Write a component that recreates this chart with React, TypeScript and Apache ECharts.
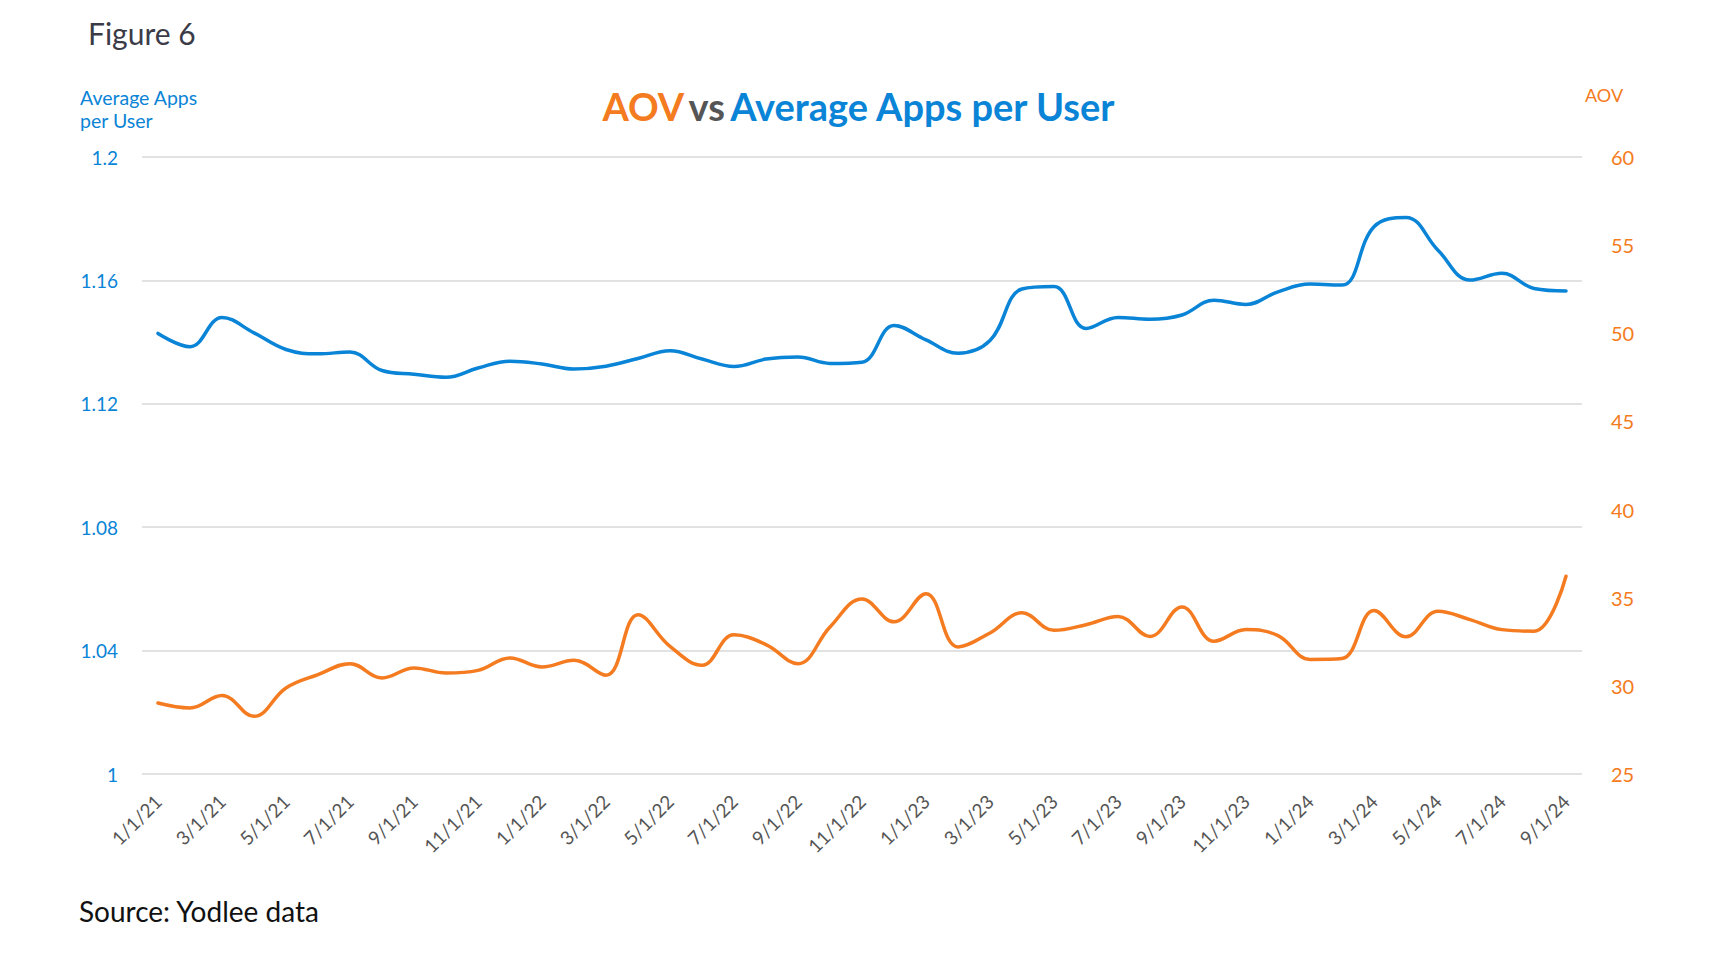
import React, { useEffect, useRef } from "react";
import * as echarts from "echarts";

const months: string[] = [
  "1/1/21", "2/1/21", "3/1/21", "4/1/21", "5/1/21", "6/1/21", "7/1/21", "8/1/21", "9/1/21", "10/1/21", "11/1/21", "12/1/21",
  "1/1/22", "2/1/22", "3/1/22", "4/1/22", "5/1/22", "6/1/22", "7/1/22", "8/1/22", "9/1/22", "10/1/22", "11/1/22", "12/1/22",
  "1/1/23", "2/1/23", "3/1/23", "4/1/23", "5/1/23", "6/1/23", "7/1/23", "8/1/23", "9/1/23", "10/1/23", "11/1/23", "12/1/23",
  "1/1/24", "2/1/24", "3/1/24", "4/1/24", "5/1/24", "6/1/24", "7/1/24", "8/1/24", "9/1/24",
];

const appsPerUser: number[] = [
  1.1428, 1.1385, 1.148, 1.143, 1.1376, 1.1362, 1.1368, 1.1308, 1.1296, 1.1286, 1.1316, 1.1338,
  1.1329, 1.1313, 1.1322, 1.1347, 1.1372, 1.1345, 1.1321, 1.1345, 1.1352, 1.1331, 1.1335, 1.1454,
  1.1407, 1.1364, 1.1405, 1.1572, 1.158, 1.1444, 1.148, 1.1474, 1.1488, 1.1536, 1.1522, 1.1563,
  1.1588, 1.1585, 1.1774, 1.1804, 1.1698, 1.1601, 1.1623, 1.1574, 1.1566,
];

const aov: number[] = [
  29.03, 28.75, 29.46, 28.27, 29.88, 30.64, 31.26, 30.45, 31.02, 30.73, 30.88, 31.58,
  31.07, 31.45, 30.6, 34.04, 32.24, 31.17, 32.9, 32.34, 31.26, 33.34, 34.93, 33.63,
  35.23, 32.21, 33.0, 34.14, 33.15, 33.47, 33.94, 32.8, 34.48, 32.53, 33.19, 32.85,
  31.5, 31.55, 34.27, 32.78, 34.23, 33.76, 33.19, 33.1, 36.22,
];

const leftTicks = { min: 1, max: 1.2, interval: 0.04 };
const rightTicks = { min: 25, max: 60, interval: 5 };

const BLUE = "#0a84d6";
const ORANGE = "#f47b20";
const FONT = "Lato, 'Open Sans', sans-serif";

export default function App() {
  const ref = useRef<HTMLDivElement>(null);

  useEffect(() => {
    document.body.style.margin = "0";
    if (!ref.current) return;
    const chart = echarts.init(ref.current, null, { renderer: "svg" });
    chart.setOption({
      animation: false,
      backgroundColor: "#ffffff",
      textStyle: { fontFamily: FONT },
      title: {
        text: "{a|AOV} {b|vs} {c|Average Apps per User}",
        left: "center",
        top: 82,
        textStyle: {
          rich: {
            a: { color: ORANGE, fontSize: 38, fontWeight: "bold", fontFamily: FONT },
            b: { color: "#555555", fontSize: 38, fontWeight: "bold", fontFamily: FONT },
            c: { color: BLUE, fontSize: 38, fontWeight: "bold", fontFamily: FONT },
          },
        },
      },
      graphic: [
        {
          type: "text",
          left: 88,
          top: 18,
          style: { text: "Figure 6", fontSize: 30, fill: "#3b3b48", fontFamily: FONT },
        },
        {
          type: "text",
          left: 80,
          top: 86,
          style: { text: "Average Apps\nper User", fontSize: 19.5, lineHeight: 23, fill: BLUE, fontFamily: FONT },
        },
        {
          type: "text",
          left: 1585,
          top: 86,
          style: { text: "AOV", fontSize: 18, fill: ORANGE, fontFamily: FONT },
        },
        {
          type: "text",
          left: 79,
          top: 897,
          style: { text: "Source: Yodlee data", fontSize: 28, fill: "#111111", fontFamily: FONT },
        },
      ],
      grid: { left: 142, right: 136, top: 157, bottom: 190, containLabel: false },
      xAxis: {
        type: "category",
        data: months,
        boundaryGap: true,
        axisLine: { show: false },
        axisTick: { show: false },
        axisLabel: {
          interval: 1,
          rotate: 45,
          color: "#555555",
          fontSize: 19,
          margin: 24,
          fontFamily: FONT,
        },
      },
      yAxis: [
        {
          type: "value",
          min: leftTicks.min,
          max: leftTicks.max,
          interval: leftTicks.interval,
          axisLine: { show: false },
          axisTick: { show: false },
          axisLabel: { color: BLUE, fontSize: 19, margin: 24, fontFamily: FONT },
          splitLine: { lineStyle: { color: "#d9d9d9", width: 1.5 } },
        },
        {
          type: "value",
          min: rightTicks.min,
          max: rightTicks.max,
          interval: rightTicks.interval,
          axisLine: { show: false },
          axisTick: { show: false },
          axisLabel: { color: ORANGE, fontSize: 20, margin: 29, fontFamily: FONT },
          splitLine: { show: false },
        },
      ],
      series: [
        {
          name: "Average Apps per User",
          type: "line",
          yAxisIndex: 0,
          data: appsPerUser,
          smooth: 0.4,
          showSymbol: false,
          lineStyle: { color: BLUE, width: 3.5, cap: "round" },
        },
        {
          name: "AOV",
          type: "line",
          yAxisIndex: 1,
          data: aov,
          smooth: 0.4,
          showSymbol: false,
          lineStyle: { color: ORANGE, width: 3.5, cap: "round" },
        },
      ],
    });
    return () => chart.dispose();
  }, []);

  return <div ref={ref} style={{ width: 1718, height: 964 }} />;
}
